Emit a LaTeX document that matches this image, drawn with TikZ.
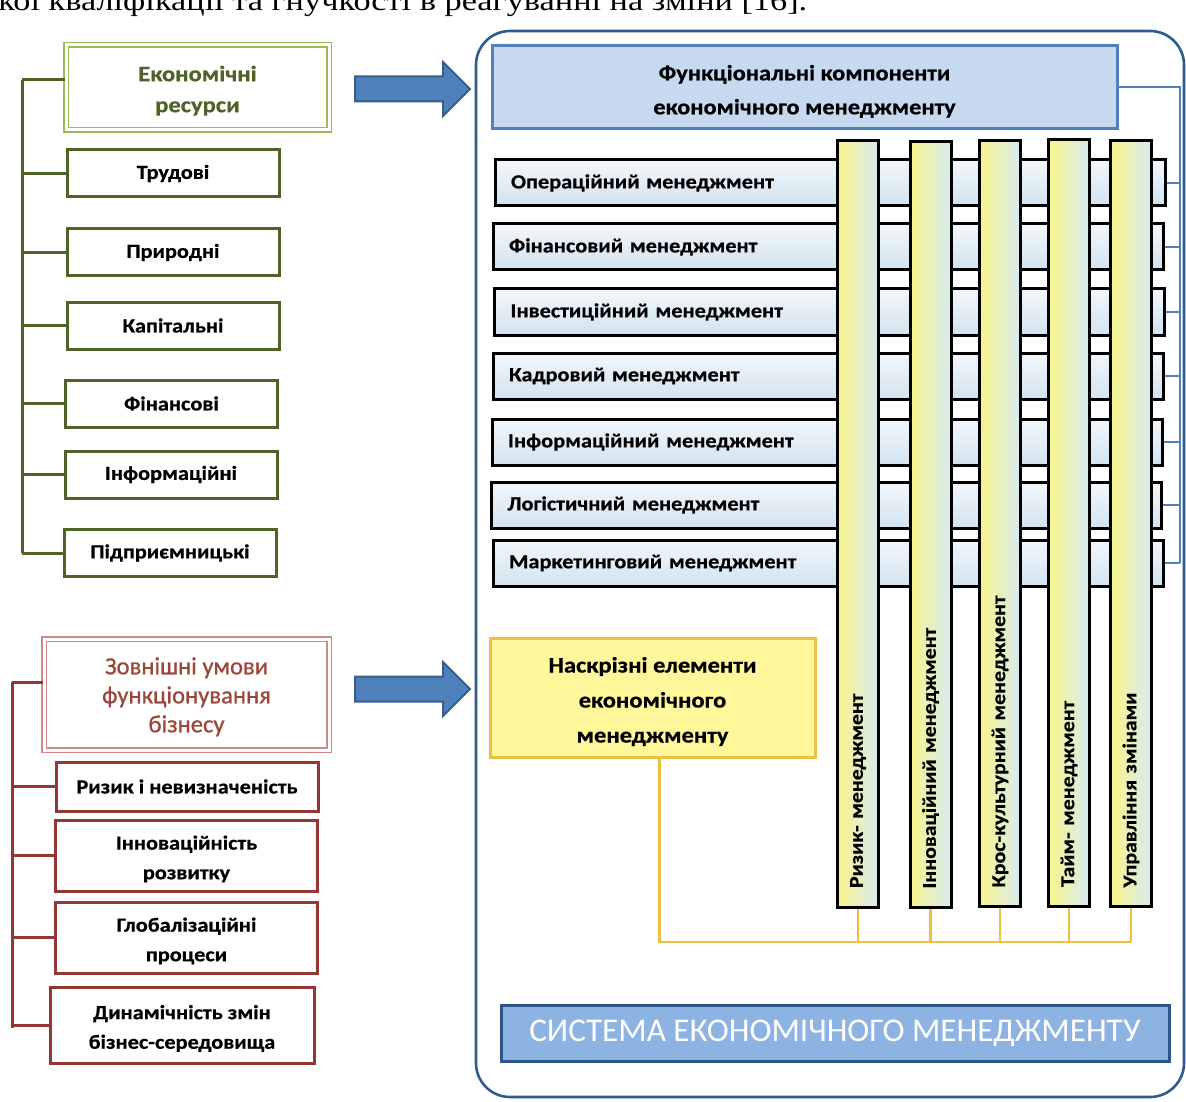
\documentclass[tikz,border=0pt]{standalone}
\usepackage{fontspec}
\setmainfont{Carlito}
\newfontfamily\lblfont[FakeStretch=1.115, BoldFeatures={FakeBold=0.6}]{Carlito}
\newfontfamily\headfont[FakeBold=0.8]{Carlito}
\newfontfamily\pagefont[FakeStretch=1.2]{Liberation Serif}
\usetikzlibrary{positioning,calc}
\newcommand\lblstack[1]{\raisebox{-1.5pt}[\height][\depth]{\begin{tabular}{@{}c@{}}#1\end{tabular}}}
\definecolor{resGreen}{HTML}{4F6228}
\definecolor{resLight}{HTML}{9BBB59}
\definecolor{extRed}{HTML}{943634}
\definecolor{extLight}{HTML}{CF8A88}
\definecolor{extText}{HTML}{9A4638}
\definecolor{arrowBlue}{HTML}{4F81BD}
\definecolor{arrowEdge}{HTML}{385D8A}
\definecolor{frameBlue}{HTML}{2E5C8F}
\definecolor{fcFill}{HTML}{C6D9F1}
\definecolor{fcEdge}{HTML}{4F81BD}
\definecolor{rowTop}{HTML}{F2F7FB}
\definecolor{rowBot}{HTML}{D2E3EF}
\definecolor{barYel}{HTML}{F7F58A}
\definecolor{barBlue}{HTML}{D9EAF2}
\definecolor{crossFill}{HTML}{FFF799}
\definecolor{crossEdge}{HTML}{EBC043}
\definecolor{sysFill}{HTML}{8DB3E2}
\definecolor{sysEdge}{HTML}{2E5489}

\begin{document}
\begin{tikzpicture}[x=0.5pt, y=-0.5pt,
    reshead/.style={draw=resLight, double=white, double distance=1.5pt, line width=0.8pt, minimum width=131.5pt, minimum height=42.5pt, text=resGreen, font=\lblfont\bfseries\fontsize{11}{15.5}\selectfont},
    resbox/.style={draw=resGreen, line width=1.5pt, fill=white, minimum width=106pt, minimum height=23.5pt, inner sep=0pt, font=\lblfont\bfseries\fontsize{10}{11}\selectfont},
    resline/.style={draw=resGreen, line width=1.5pt},
    exthead/.style={draw=extLight, double=white, double distance=1.5pt, line width=0.8pt, minimum width=142.5pt, minimum height=55.5pt, text=extText, font=\headfont\fontsize{12.3}{14.5}\selectfont},
    extbox/.style={draw=extRed, line width=1.5pt, fill=white, minimum width=131pt, inner sep=0pt, font=\lblfont\bfseries\fontsize{10}{14.8}\selectfont},
    extline/.style={draw=extRed, line width=1.5pt},
    blockarrow/.style={draw=arrowEdge, fill=arrowBlue, line width=1pt, line join=miter},
    frame/.style={draw=frameBlue, line width=1.3pt, rounded corners=17pt},
    fcbox/.style={draw=fcEdge, fill=fcFill, line width=1.5pt, minimum width=312.5pt, minimum height=41.5pt, font=\lblfont\bfseries\fontsize{10.9}{17}\selectfont},
    fcline/.style={draw=fcEdge, line width=1pt},
    rowbox/.style={draw=black, line width=1.5pt, top color=rowTop, bottom color=rowBot, minimum height=23pt, inner xsep=8pt, text width=319pt, align=left, font=\lblfont\bfseries\fontsize{10}{12}\selectfont},
    barbox/.style={draw=black, line width=1.5pt, rotate=90, left color=barYel, middle color=barYel!70!barBlue, right color=barBlue, minimum height=20.5pt, inner xsep=9.5pt, text width=364pt, align=left, font=\lblfont\bfseries\fontsize{9.8}{11}\selectfont},
    crossbox/.style={draw=crossEdge, fill=crossFill, line width=1.5pt, minimum width=162.5pt, minimum height=59.5pt, font=\lblfont\bfseries\fontsize{11}{17.5}\selectfont},
    crossline/.style={draw=crossEdge, line width=1.3pt},
    sysbox/.style={draw=sysEdge, fill=sysFill, line width=1.5pt, minimum width=334pt, minimum height=28pt, text=white, font=\fontsize{16.6}{20}\selectfont}
  ]
  \useasboundingbox (0,0) rectangle (1186,1101);
  \clip (0,0) rectangle (1186,1101);

  % end of the text line above the figure
  \node[anchor=base west, inner sep=0pt, font=\pagefont\fontsize{14.3}{16}\selectfont] (prevline) at (-2,11) {кої кваліфікації та гнучкості в реагуванні на зміни [16].};

  % economic resources
  \node[reshead] (res) at (197.5,87.5) {\lblstack{Економічні\\ресурси}};
  \node[resbox] (labour) at (173,173.5) {Трудові};
  \node[resbox] (natural) at (173,252.5) {Природні};
  \node[resbox] (capital) at (173,325.5) {Капітальні};
  \node[resbox] (fin) at (171.5,403.5) {Фінансові};
  \node[resbox] (info) at (171,474.5) {Інформаційні};
  \node[resbox] (entre) at (170,553) {Підприємницькі};
  \coordinate (gtop) at (22,80);
  \coordinate (gbot) at (22,553);
  \draw[resline] (gtop) -- (gbot);
  \draw[resline] (res.west |- gtop) -- (gtop);
  \foreach \n in {labour,natural,capital,fin,info,entre}
    \draw[resline] (\n.west) -- (\n.west -| gtop);

  % external conditions
  \node[exthead] (ext) at (186.5,694.5) {\lblstack{Зовнішні умови\\функціонування\\бізнесу}};
  \node[extbox, minimum height=24.5pt] (risk) at (187,786.5) {Ризик і невизначеність};
  \node[extbox, minimum height=35.5pt] (innov) at (186.5,855.5) {\lblstack{Інноваційність\\розвитку}};
  \node[extbox, minimum height=35.5pt] (glob) at (186.5,937.5) {\lblstack{Глобалізаційні\\процеси}};
  \node[extbox, minimum height=38pt, minimum width=132pt] (dyn) at (182,1025) {\lblstack{Динамічність змін\\бізнес-середовища}};
  \coordinate (rtop) at (12,682);
  \coordinate (rbot) at (12,1028);
  \draw[extline] (rtop) -- (rbot);
  \draw[extline] (ext.west |- rtop) -- (rtop);
  \foreach \n in {risk,innov,glob,dyn}
    \draw[extline] (\n.west) -- (\n.west -| rtop);

  % block arrows
  \coordinate (arr1) at (355,89);
  \coordinate (arr2) at (355,689);
  \foreach \a in {arr1,arr2}
    \draw[blockarrow] (\a) ++(0,-12.5) -- ++(88,0) -- ++(0,-14.5) -- ++(27,27) -- ++(-27,27) -- ++(0,-14.5) -- ++(-88,0) -- cycle;

  % system frame
  \draw[frame] (476,31) rectangle (1184,1097);

  \node[fcbox] (fc) at (804.5,87.5) {\lblstack{Функціональні компоненти\\економічного менеджменту}};

  \node[rowbox] (op) at (830,183) {Операційний менеджмент};
  \node[rowbox] (fm) at (828,247) {Фінансовий менеджмент};
  \node[rowbox] (inv) at (829.5,312) {Інвестиційний менеджмент};
  \node[rowbox] (hr) at (828,376) {Кадровий менеджмент};
  \node[rowbox] (im) at (827,442) {Інформаційний менеджмент};
  \node[rowbox] (log) at (826.5,505) {Логістичний менеджмент};
  \node[rowbox] (mkt) at (828,563) {Маркетинговий менеджмент};

  \coordinate (bs) at (1180,0);
  \draw[fcline] (fc.east) -- (fc.east -| bs) -- (mkt.east -| bs);
  \foreach \r in {op,fm,inv,hr,im,log,mkt}
    \draw[fcline] (\r.east) -- (\r.east -| bs);

  \node[barbox] (b1) at (858,524) {Ризик- менеджмент};
  \node[barbox] (b2) at (930.5,524.5) {Інноваційний менеджмент};
  \node[barbox] (b3) at (1000,523.5) {Крос-культурний менеджмент};
  \node[barbox] (b4) at (1069,523) {Тайм- менеджмент};
  \node[barbox] (b5) at (1131,523.5) {Управління змінами};

  \node[crossbox] (cross) at (652.5,697.5) {\lblstack{Наскрізні елементи\\економічного\\менеджменту}};
  \coordinate (bus) at (0,942);
  \draw[crossline] ($(cross.south)+(7,0)$) |- (b5.west |- bus);
  \foreach \b in {b1,b2,b3,b4,b5}
    \draw[crossline] (\b.west) -- (\b.west |- bus);

  \node[sysbox] (sys) at (835,1033) {СИСТЕМА ЕКОНОМІЧНОГО МЕНЕДЖМЕНТУ};
\end{tikzpicture}
\end{document}
